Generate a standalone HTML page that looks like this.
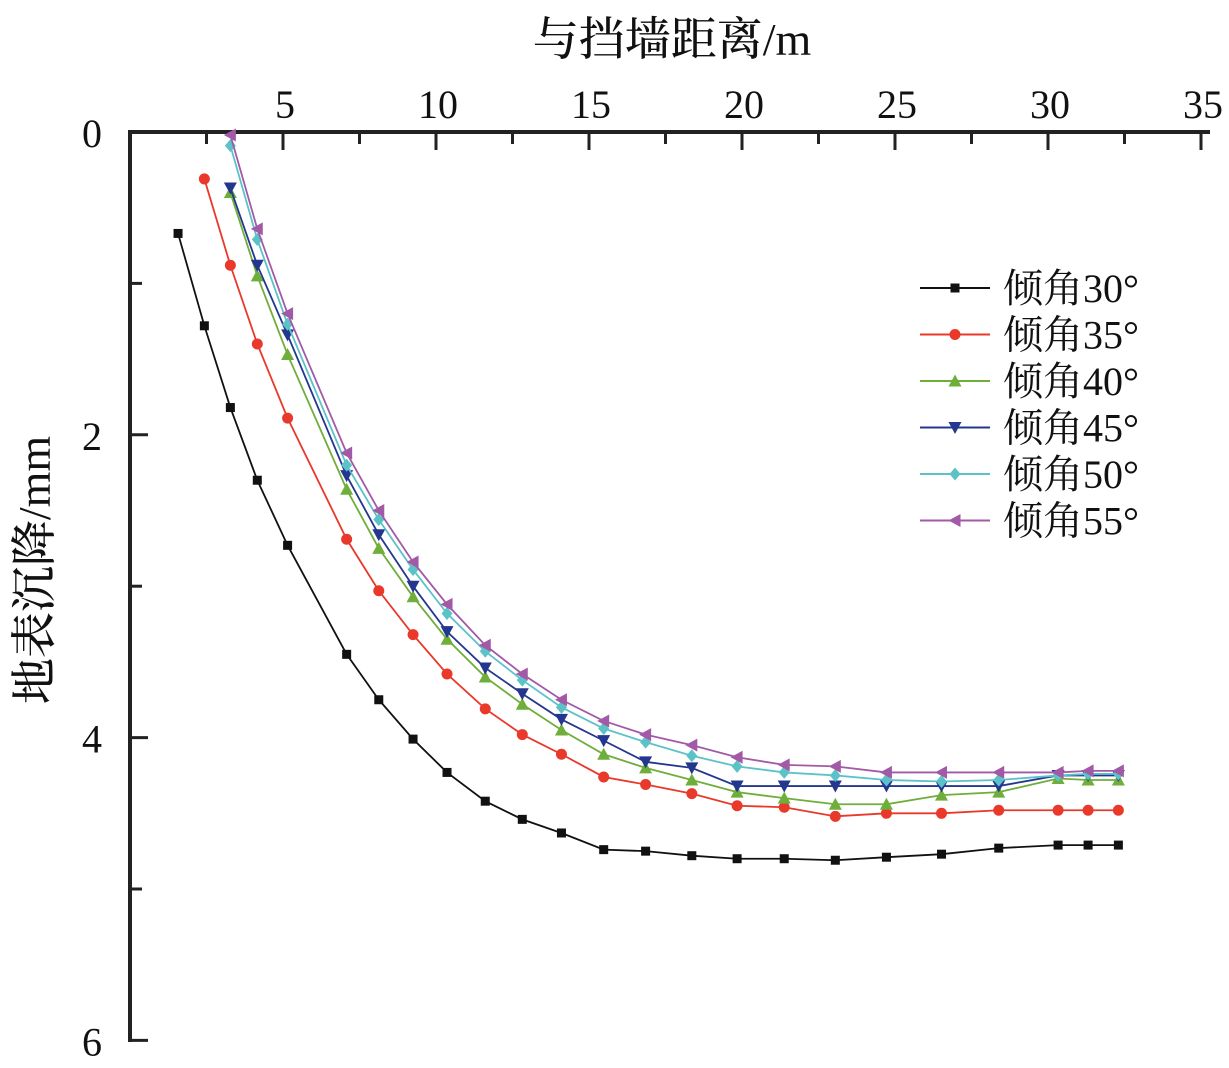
<!DOCTYPE html>
<html><head><meta charset="utf-8"><style>
body{margin:0;background:#fff}
svg text{font-family:"Liberation Serif","Noto Serif CJK SC",serif;fill:#111}
</style></head><body>
<svg id="c" width="1229" height="1063"></svg>
<script>
const xs=[1.57,2.43,3.28,4.16,5.15,7.08,8.13,9.25,10.36,11.61,12.82,14.10,15.48,16.85,18.36,19.84,21.38,23.05,24.72,26.52,28.39,30.33,31.31,32.3];
const s30=[0.67,1.28,1.82,2.30,2.73,3.45,3.75,4.01,4.23,4.42,4.54,4.63,4.74,4.75,4.78,4.80,4.80,4.81,4.79,4.77,4.73,4.71,4.71,4.71];
const s35=[0.31,0.88,1.40,1.89,2.69,3.03,3.32,3.58,3.81,3.98,4.11,4.26,4.31,4.37,4.45,4.46,4.52,4.50,4.50,4.48,4.48,4.48,4.48];
const s40=[0.40,0.95,1.47,2.36,2.75,3.07,3.35,3.60,3.78,3.95,4.11,4.20,4.28,4.36,4.40,4.44,4.44,4.38,4.36,4.27,4.28,4.28];
const s45=[0.37,0.88,1.34,2.27,2.66,3.00,3.30,3.54,3.71,3.88,4.02,4.16,4.20,4.32,4.32,4.32,4.32,4.32,4.32,4.25,4.25,4.25];
const s50=[0.09,0.71,1.27,2.20,2.56,2.89,3.18,3.43,3.62,3.80,3.94,4.03,4.12,4.19,4.23,4.25,4.28,4.29,4.28,4.25,4.24,4.24];
const s55=[0.02,0.64,1.20,2.12,2.50,2.84,3.12,3.39,3.58,3.75,3.89,3.98,4.05,4.13,4.18,4.19,4.23,4.23,4.23,4.23,4.22,4.22];
const names=["倾角30°","倾角35°","倾角40°","倾角45°","倾角50°","倾角55°"];
const xTicks=[5,10,15,20,25,30,35];
const yTicks=[0,2,4,6];
const series=[s30,s35,s40,s45,s50,s55];
const colors=["#111","#e8392a","#6fae3a","#24378f","#5bc3c8","#a25aa6"];
const shapes=["sq","ci","tu","td","di","tl"];
const X=v=>130+v*30.6, Y=v=>132+v*151.4;
const svg=document.getElementById('c');
const NS="http://www.w3.org/2000/svg";
function mk(t,a,p){const e=document.createElementNS(NS,t);for(const k in a)e.setAttribute(k,a[k]);(p||svg).appendChild(e);return e;}
let ax=mk('g',{});


mk('line',{x1:130,y1:132,x2:1210,y2:132,stroke:'#222','stroke-width':4},ax);
mk('line',{x1:130,y1:130,x2:130,y2:1042,stroke:'#222','stroke-width':4},ax);
for(let v=2.5;v<=35;v+=2.5){const big=v%5===0;mk('line',{x1:X(v),y1:132,x2:X(v),y2:132+(big?18:12),stroke:'#222','stroke-width':3},ax);}
for(let v=1;v<=6;v++){const big=v%2===0;mk('line',{x1:130,y1:Y(v),x2:130+(big?18:12),y2:Y(v),stroke:'#222','stroke-width':3},ax);}
xTicks.forEach(v=>{const t=mk('text',{x:X(v)+2,y:118,'text-anchor':'middle','font-size':40},ax);t.textContent=v;
});
yTicks.forEach(v=>{const t=mk('text',{x:102,y:Y(v)+15,'text-anchor':'end','font-size':40},ax);t.textContent=v;
});
let xt=mk('text',{x:672,y:55,'text-anchor':'middle','font-size':46,'font-weight':500});xt.textContent="与挡墙距离/m";

let yt=mk('text',{x:50,y:570,'text-anchor':'middle','font-size':46,'font-weight':500,transform:'rotate(-90 50 570)'});yt.textContent="地表沉降/mm";

function marker(g,s,x,y,c){const r=5.5;
 if(s=='sq')mk('rect',{x:x-r+1,y:y-r+1,width:2*r-2,height:2*r-2,fill:c},g);
 else if(s=='ci')mk('circle',{cx:x,cy:y,r:r,fill:c},g);
 else if(s=='tu')mk('polygon',{points:`${x},${y-r-1} ${x-r-1},${y+r} ${x+r+1},${y+r}`,fill:c},g);
 else if(s=='td')mk('polygon',{points:`${x},${y+r+1} ${x-r-1},${y-r} ${x+r+1},${y-r}`,fill:c},g);
 else if(s=='di')mk('polygon',{points:`${x},${y-r-1} ${x+r},${y} ${x},${y+r+1} ${x-r},${y}`,fill:c},g);
 else mk('polygon',{points:`${x-r-1},${y} ${x+r},${y-r-1} ${x+r},${y+r+1}`,fill:c},g);}
series.forEach((d,i)=>{const off=xs.length-d.length;const g=mk('g',{});
 
 
 const pts=d.map((v,j)=>X(xs[j+off])+','+Y(v)).join(' ');
 mk('polyline',{points:pts,fill:'none',stroke:colors[i],'stroke-width':1.8},g);
 d.forEach((v,j)=>marker(g,shapes[i],X(xs[j+off]),Y(v),colors[i]));
 const ly=288+i*46.5;const lg=mk('g',{});
 
 
 mk('line',{x1:920,y1:ly,x2:990,y2:ly,stroke:colors[i],'stroke-width':2},lg);
 marker(lg,shapes[i],955,ly,colors[i]);
 const t=mk('text',{x:1003,y:ly+14,'font-size':40},lg);t.textContent=names[i];});
</script>
</body></html>
